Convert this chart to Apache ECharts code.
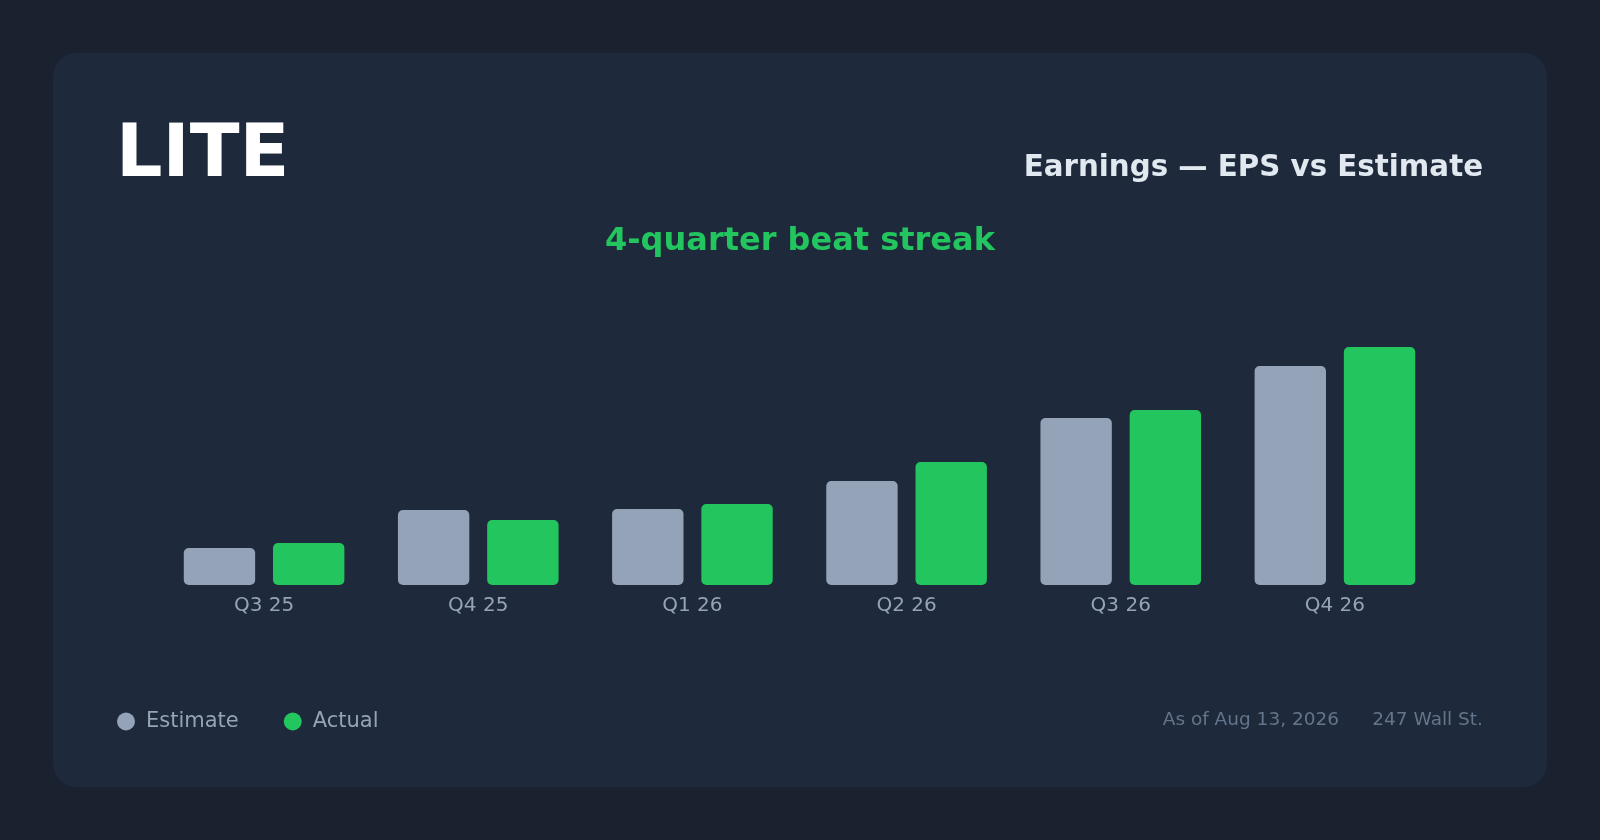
<!DOCTYPE html>
<html>
<head>
<meta charset="utf-8">
<title>LITE Earnings</title>
<script src="https://cdn.jsdelivr.net/npm/echarts@6/dist/echarts.min.js"></script>
<style>
	html, body { margin: 0; padding: 0; background: #1a2230; }
	#chart { width: 1600px; height: 840px; }
</style>
</head>
<body>
<div id="chart"></div>
<script>
// quarters and EPS values
var quarters = ['Q3 25', 'Q4 25', 'Q1 26', 'Q2 26', 'Q3 26', 'Q4 26'];
var estimate = [0.37, 0.75, 0.76, 1.04, 1.67, 2.19];
var actual = [0.42, 0.65, 0.81, 1.23, 1.75, 2.38];

var ticker = 'LITE';
var title = 'Earnings — EPS vs Estimate';
var subtitle = '4-quarter beat streak';
var asOf = 'As of Aug 13, 2026';
var source = '247 Wall St.';

window.onload = function() {
	var font = 'DejaVu Sans';
	var myChart = echarts.init(document.getElementById('chart'), null, { renderer: 'canvas' });

	var option = {
		backgroundColor: '#1a2230',
		animation: false,
		textStyle: { fontFamily: font },
		graphic: [{
			// card
			type: 'rect',
			z: -10,
			shape: { x: 53, y: 53, width: 1494, height: 734, r: 24 },
			style: { fill: '#1e293b' }
		}, {
			type: 'text',
			x: 116,
			y: 157,
			style: {
				text: ticker,
				fill: '#ffffff',
				font: 'bold 73px "DejaVu Sans"',
				textAlign: 'left',
				textVerticalAlign: 'middle'
			}
		}, {
			type: 'text',
			x: 1483,
			y: 168.5,
			style: {
				text: title,
				fill: '#e2e8f0',
				font: 'bold 29.3px "DejaVu Sans"',
				textAlign: 'right',
				textVerticalAlign: 'middle'
			}
		}, {
			type: 'text',
			x: 800,
			y: 242,
			style: {
				text: subtitle,
				fill: '#22c55e',
				font: 'bold 32px "DejaVu Sans"',
				textAlign: 'center',
				textVerticalAlign: 'middle'
			}
		}, {
			type: 'text',
			x: 1339,
			y: 720.5,
			style: {
				text: asOf,
				fill: '#64748b',
				font: '18.5px "DejaVu Sans"',
				textAlign: 'right',
				textVerticalAlign: 'middle'
			}
		}, {
			type: 'text',
			x: 1483,
			y: 720.5,
			style: {
				text: source,
				fill: '#64748b',
				font: '18.5px "DejaVu Sans"',
				textAlign: 'right',
				textVerticalAlign: 'middle'
			}
		}],
		legend: {
			left: 117,
			top: 711,
			padding: 0,
			icon: 'circle',
			itemWidth: 18,
			itemHeight: 18,
			itemGap: 45,
			selectedMode: false,
			textStyle: {
				color: '#94a3b8',
				fontSize: 21,
				fontFamily: font,
				padding: [0, 0, 0, 6]
			},
			data: ['Estimate', 'Actual']
		},
		grid: {
			left: 157,
			width: 1285,
			top: 285,
			bottom: 255,
			containLabel: false
		},
		xAxis: {
			type: 'category',
			data: quarters,
			axisLine: { show: false },
			axisTick: { show: false },
			axisLabel: {
				color: '#94a3b8',
				fontSize: 20,
				fontFamily: font,
				margin: 11
			}
		},
		yAxis: {
			type: 'value',
			min: 0,
			max: 3,
			show: false,
			splitLine: { show: false }
		},
		series: [{
			name: 'Estimate',
			type: 'bar',
			data: estimate,
			barGap: '25%',
			barCategoryGap: '25%',
			itemStyle: { color: '#94a3b8', borderRadius: 5 }
		}, {
			name: 'Actual',
			type: 'bar',
			data: actual,
			barGap: '25%',
			barCategoryGap: '25%',
			itemStyle: { color: '#22c55e', borderRadius: 5 }
		}]
	};
	myChart.setOption(option);
}
</script>
</body>
</html>
